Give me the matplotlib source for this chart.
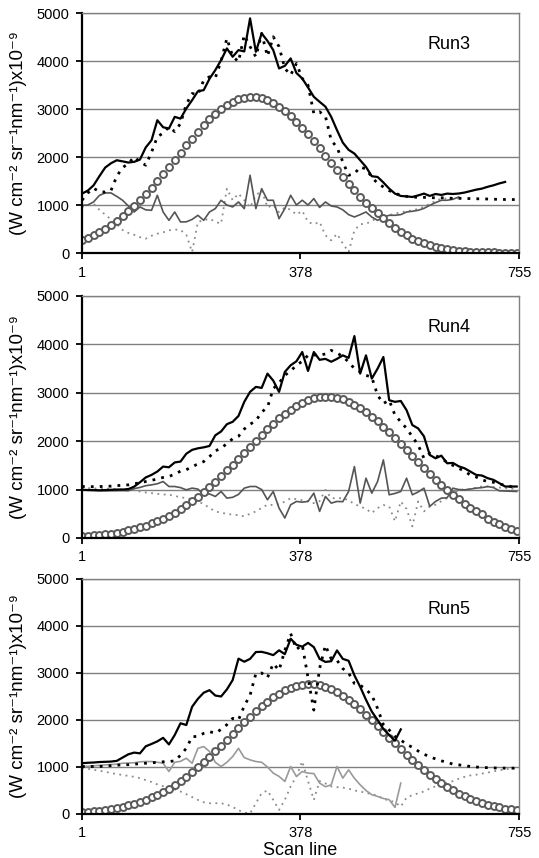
import numpy as np
import matplotlib
matplotlib.use("Agg")
import matplotlib.pyplot as plt

plt.rcParams['font.family'] = ['Liberation Sans', 'DejaVu Sans']

# scan lines sampled every 10 lines
scan = np.arange(1, 756, 10)
xticks = [1, 378, 755]
yticks = [0, 1000, 2000, 3000, 4000, 5000]
ylabel = "(W cm\u207b\u00b2 sr\u207b\u00b9nm\u207b\u00b9)x10\u207b\u2079"
runs = ["Run3", "Run4", "Run5"]

# ---- Run3 ----
run3_solid = [1238, 1300, 1410, 1600, 1780, 1870, 1933, 1910, 1885, 1900,
              1947, 2200, 2350, 2767, 2620, 2594, 2837, 2800, 3011, 3185,
              3370, 3394, 3630, 3811, 4019, 4263, 4089, 4228, 4200, 4889,
              4193, 4576, 4420, 4228, 3846, 3900, 4054, 3750, 3637, 3450,
              3255, 3150, 3050, 2837, 2559, 2300, 2150, 2072, 1933, 1794,
              1600, 1585, 1470, 1342, 1238, 1189, 1180, 1168, 1200, 1238,
              1190, 1230, 1210, 1238, 1230, 1240, 1260, 1290, 1320, 1342,
              1380, 1411, 1450, 1481]
run3_dotted = [1100, 1250, 1350, 1280, 1270, 1300, 1600, 1780, 1864, 2003,
               1900, 1830, 2100, 2420, 2500, 2628, 2530, 2698, 3100, 3324,
               3300, 3600, 3672, 3650, 4000, 4471, 4100, 3985, 4541, 4300,
               4089, 4576, 4100, 4506, 4300, 3846, 3707, 3950, 3637, 3498,
               2907, 2942, 2850, 2350, 2200, 1900, 1620, 1650, 1794, 1750,
               1585, 1450, 1377, 1300, 1250, 1200, 1180, 1168, 1160, 1160,
               1155, 1150, 1150, 1145, 1140, 1140, 1135, 1135, 1130, 1130,
               1125, 1120, 1120, 1115, 1115, 1113]
run3_gray = [994, 1000, 1064, 1200, 1252, 1252, 1180, 1099, 980, 855,
             960, 900, 890, 1203, 855, 681, 855, 647, 650, 700,
             786, 681, 855, 925, 1099, 1000, 960, 1064, 925, 1620,
             925, 1342, 1099, 1099, 716, 925, 1203, 1000, 1100, 1000,
             1134, 950, 1064, 980, 960, 900, 800, 751, 800, 855,
             750, 681, 750, 786, 786, 800, 855, 870, 890, 930,
             994, 1050, 1099, 1099, 1120, 1168]
run3_gray_dot = [960, 1000, 1030, 900, 800, 700, 600, 480, 420, 380,
                 330, 299, 360, 403, 430, 473, 490, 480, 380, 21,
                 650, 680, 716, 650, 612, 1342, 1100, 1238, 1100, 950,
                 1200, 1307, 950, 1000, 850, 950, 900, 800, 880, 647,
                 600, 647, 368, 264, 400, 200, 21, 473, 600, 612,
                 660, 751, 760, 790, 820, 850, 870, 890, 920, 960,
                 1030, 1080, 1134, 1134, 1140, 1140]
run3_circ = [267, 315, 371, 433, 503, 582, 668, 763, 866, 978,
             1098, 1225, 1359, 1499, 1643, 1791, 1942, 2091, 2241, 2386,
             2526, 2659, 2783, 2895, 2995, 3079, 3149, 3200, 3234, 3250,
             3245, 3223, 3182, 3123, 3047, 2956, 2851, 2735, 2607, 2471,
             2328, 2181, 2030, 1876, 1721, 1585, 1442, 1305, 1173, 1049,
             933, 824, 724, 633, 520, 440, 370, 300, 245, 200,
             160, 125, 100, 80, 62, 48, 38, 30, 23, 18,
             14, 11, 8, 6, 4, 3]

# ---- Run4 ----
run4_solid = [994, 990, 990, 985, 990, 995, 1000, 1000, 1010, 1060,
              1150, 1250, 1303, 1372, 1475, 1460, 1560, 1578, 1740, 1820,
              1852, 1872, 1900, 2120, 2200, 2350, 2400, 2520, 2812, 3018,
              3121, 3100, 3395, 3250, 3018, 3430, 3567, 3650, 3841, 3450,
              3841, 3680, 3700, 3640, 3700, 3772, 3720, 4170, 3395, 3772,
              3292, 3498, 3738, 2846, 2812, 2830, 2640, 2332, 2263, 2100,
              1715, 1646, 1700, 1543, 1550, 1480, 1440, 1372, 1303, 1290,
              1235, 1200, 1132, 1063, 1063, 1063]
run4_dotted = [1063, 1060, 1060, 1060, 1070, 1070, 1080, 1090, 1097, 1120,
               1140, 1166, 1190, 1220, 1250, 1269, 1320, 1380, 1410, 1470,
               1530, 1578, 1680, 1800, 1852, 1950, 2050, 2100, 2250, 2350,
               2420, 2600, 2700, 3086, 3200, 3361, 3450, 3567, 3650, 3772,
               3780, 3780, 3800, 3875, 3820, 3750, 3635, 3500, 3429, 3361,
               3320, 2949, 2778, 2846, 2538, 2400, 2263, 2092, 1920, 1646,
               1749, 1700, 1646, 1560, 1500, 1440, 1380, 1300, 1260, 1200,
               1166, 1150, 1110, 1097, 1060, 1029]
run4_gray = [994, 985, 980, 975, 974, 975, 976, 980, 975, 1020,
             1043, 1080, 1097, 1120, 1166, 1063, 1063, 1040, 994, 1030,
             1010, 892, 910, 857, 960, 823, 840, 900, 1029, 1063,
             1063, 1000, 789, 960, 617, 412, 686, 754, 740, 754,
             926, 549, 857, 720, 754, 750, 960, 1475, 720, 1235,
             926, 1166, 1612, 892, 920, 960, 1235, 892, 950, 1029,
             652, 754, 823, 830, 1029, 1000, 994, 1010, 1029, 1040,
             1063, 1040, 974, 970, 965, 960]
run4_gray_dot = [1029, 1029, 1025, 1020, 1020, 1015, 1010, 1005, 1000, 990,
                 960, 940, 926, 910, 900, 892, 870, 840, 823, 800,
                 754, 700, 620, 549, 520, 500, 480, 470, 446, 500,
                 549, 620, 686, 680, 700, 750, 823, 800, 780, 760,
                 720, 760, 994, 823, 820, 823, 780, 700, 652, 600,
                 515, 617, 680, 652, 343, 754, 600, 240, 754, 549,
                 650, 686, 760, 823, 900, 994, 1000, 1010, 1040, 1063,
                 1063, 1050, 1040, 1030, 1020, 1015]
run4_circ = [34, 42, 51, 63, 76, 92, 110, 132, 157, 186,
             219, 256, 299, 346, 400, 459, 525, 597, 675, 760,
             852, 949, 1053, 1162, 1276, 1394, 1515, 1639, 1764, 1889,
             2013, 2134, 2251, 2363, 2468, 2565, 2653, 2729, 2794, 2846,
             2885, 2910, 2920, 2915, 2896, 2863, 2816, 2756, 2684, 2601,
             2508, 2406, 2297, 2182, 2062, 1939, 1814, 1689, 1564, 1442,
             1322, 1207, 1096, 990, 890, 796, 708, 627, 553, 485,
             400, 340, 285, 235, 190, 150]

# ---- Run5 ----
run5_solid = [1080, 1090, 1095, 1105, 1110, 1115, 1130, 1200, 1270, 1306,
              1290, 1440, 1490, 1545, 1620, 1480, 1680, 1930, 1893, 2281,
              2450, 2580, 2634, 2520, 2500, 2650, 2850, 3305, 3240, 3300,
              3446, 3450, 3420, 3380, 3482, 3400, 3729, 3600, 3560, 3640,
              3550, 3300, 3235, 3250, 3480, 3300, 3260, 2950, 2705, 2430,
              2180, 2000, 1810, 1680, 1560, 1800]
run5_dotted = [1010, 1010, 1010, 1010, 1020, 1030, 1040, 1045, 1050, 1060,
               1070, 1080, 1090, 1100, 1110, 1116, 1130, 1250, 1398, 1645,
               1650, 1716, 1751, 1720, 1800, 1900, 2034, 2000, 2300, 2528,
               2987, 3000, 2900, 3200, 3058, 3482, 3840, 3500, 3600, 2900,
               2210, 3100, 3588, 3300, 3270, 3093, 3000, 2775, 2740, 2650,
               2528, 2245, 1900, 1787, 1650, 1575, 1480, 1420, 1340, 1270,
               1222, 1170, 1130, 1100, 1060, 1045, 1030, 1010, 1000, 990,
               985, 980, 975, 975, 975, 975]
run5_gray = [1010, 1015, 1025, 1035, 1045, 1050, 1060, 1080, 1085, 1090,
             1110, 1116, 1116, 1100, 1080, 904, 1100, 1120, 1186, 1080,
             1398, 1434, 1330, 1100, 1010, 1100, 1222, 1398, 1200, 1151,
             1116, 1100, 1000, 869, 800, 692, 1010, 798, 904, 869,
             860, 657, 580, 620, 1010, 763, 939, 760, 620, 500,
             410, 374, 330, 304, 140, 657]
run5_gray_dot = [978, 960, 940, 920, 900, 871, 850, 830, 810, 790,
                 764, 720, 680, 630, 590, 560, 520, 480, 420, 360,
                 300, 250, 229, 229, 229, 200, 150, 80, 30, 14,
                 229, 443, 500, 300, 86, 300, 586, 800, 1121, 700,
                 300, 700, 650, 586, 570, 560, 540, 500, 479, 450,
                 420, 390, 320, 290, 250, 157, 350, 400, 440, 480,
                 540, 590, 621, 660, 700, 750, 790, 820, 836, 860,
                 880, 907, 930, 950, 965, 979]
run5_circ = [39, 48, 59, 72, 88, 107, 129, 155, 185, 219,
             258, 303, 354, 410, 473, 542, 619, 702, 792, 889,
             991, 1100, 1214, 1331, 1453, 1577, 1701, 1826, 1948, 2067,
             2182, 2290, 2390, 2480, 2560, 2628, 2683, 2723, 2749, 2760,
             2755, 2735, 2701, 2652, 2589, 2514, 2427, 2331, 2226, 2114,
             1996, 1875, 1751, 1626, 1502, 1380, 1260, 1145, 1034, 929,
             830, 737, 651, 572, 500, 434, 375, 323, 276, 234,
             198, 166, 139, 116, 96, 78]

panels = [
    (run3_solid, run3_dotted, run3_gray, run3_gray_dot, run3_circ, '#555555'),
    (run4_solid, run4_dotted, run4_gray, run4_gray_dot, run4_circ, '#555555'),
    (run5_solid, run5_dotted, run5_gray, run5_gray_dot, run5_circ, '#9a9a9a'),
]

fig = plt.figure(figsize=(5.39, 8.58), dpi=100)
boxes = [[0.1521, 0.7051, 0.8108, 0.2797],
         [0.1521, 0.3730, 0.8108, 0.2821],
         [0.1521, 0.0513, 0.8108, 0.2739]]

for k, (solid, dotted, gray, gdot, circ, gcol) in enumerate(panels):
    ax = fig.add_axes(boxes[k])
    ax.plot(scan[:len(gdot)], gdot, color='#8a8a8a', lw=1.3,
            linestyle=(0, (1, 2.5)), zorder=2)
    ax.plot(scan[:len(gray)], gray, color=gcol, lw=1.2, zorder=3)
    ax.plot(scan[:len(circ)], circ, linestyle='none', marker='o', ms=5.0,
            mfc='white', mec='#5a5a5a', mew=1.4, zorder=4)
    ax.plot(scan[:len(dotted)], dotted, color='black', lw=2.0,
            linestyle=(0, (1, 2.2)), zorder=5)
    ax.plot(scan[:len(solid)], solid, color='black', lw=1.6, zorder=6)

    ax.set_xlim(1, 755)
    ax.set_ylim(0, 5000)
    ax.set_xticks(xticks)
    ax.set_yticks(yticks)
    ax.yaxis.grid(True, color='#808080', lw=1.0)
    ax.set_axisbelow(True)
    for s in ['top', 'right']:
        ax.spines[s].set_color('#808080')
        ax.spines[s].set_linewidth(1.0)
    for s in ['left', 'bottom']:
        ax.spines[s].set_color('black')
        ax.spines[s].set_linewidth(1.6)
    ax.tick_params(direction='out', length=4, width=1.3, labelsize=10.5, pad=5)
    ax.set_ylabel(ylabel, fontsize=13.5)
    ax.yaxis.set_label_coords(-0.125, 0.5)
    ax.text(0.84, 0.87, runs[k], transform=ax.transAxes, fontsize=13,
            ha='center', va='center')
    for sp in ax.spines.values():
        sp.set_zorder(7)

ax.set_xlabel("Scan line", fontsize=13, labelpad=1)

fig.savefig("out.png", dpi=100)
